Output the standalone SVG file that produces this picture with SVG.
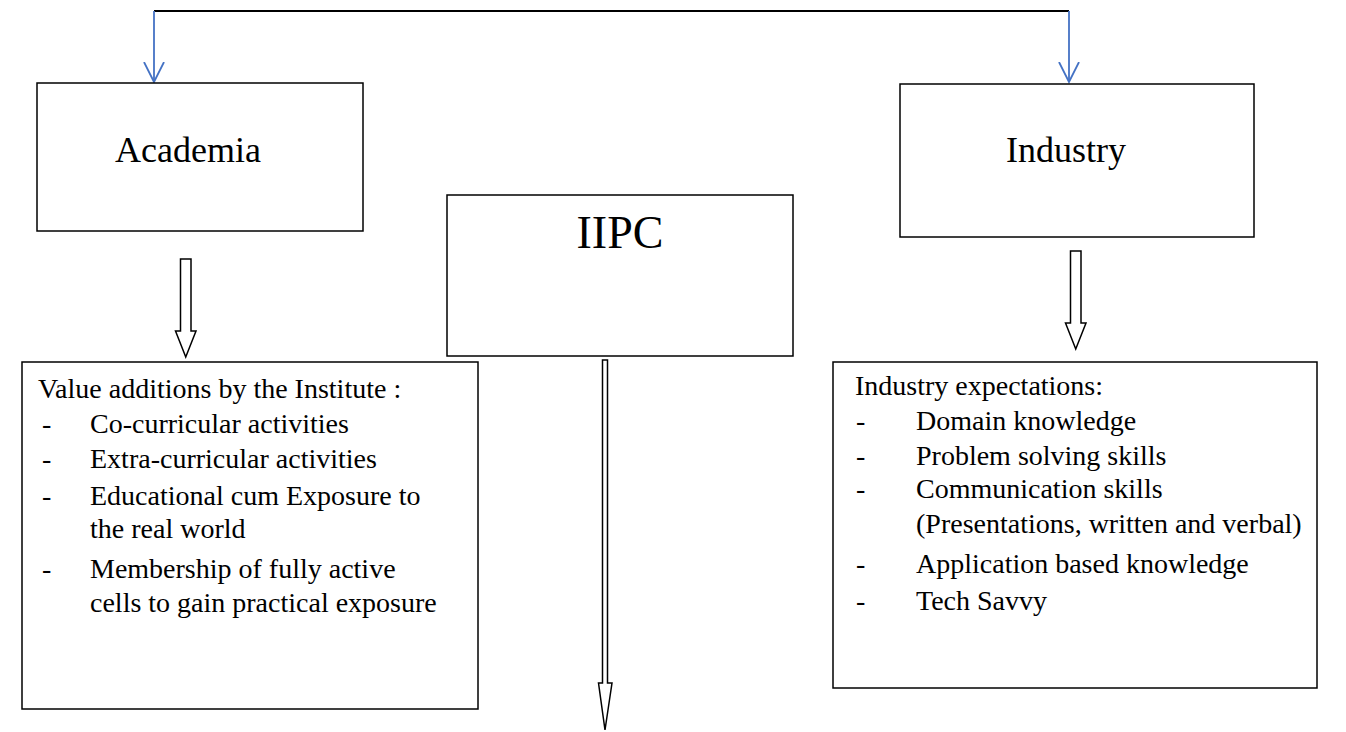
<svg xmlns="http://www.w3.org/2000/svg" width="1346" height="732" viewBox="0 0 1346 732">
<defs>
<style>
.box{fill:#fff;stroke:#000;stroke-width:1.5}
text{font-family:"Liberation Serif","Times New Roman",serif;fill:#000}
.big{font-size:36px}
.body{font-size:28px}
.blk{fill:#fff;stroke:#000;stroke-width:1.5;stroke-linejoin:miter}
.blue{fill:none;stroke:#4472C4;stroke-width:1.8}
</style>
<marker id="ah" markerWidth="24" markerHeight="24" refX="20" refY="11" orient="auto" markerUnits="userSpaceOnUse" viewBox="0 0 24 24">
<path d="M0,1 L20,11 L0,21" fill="none" stroke="#4472C4" stroke-width="1.8"/>
</marker>
</defs>
<rect width="1346" height="732" fill="#fff"/>
<g id="connectors">
<line x1="154" y1="11" x2="1069" y2="11" stroke="#000" stroke-width="2"/>
<line class="blue" x1="154" y1="11" x2="154" y2="82" marker-end="url(#ah)"/>
<line class="blue" x1="1069" y1="11" x2="1069" y2="82" marker-end="url(#ah)"/>
<path class="blk" d="M180.5,259 L191,259 L191,331 L196,331 L185.75,357 L175.5,331 L180.5,331 Z"/>
<path class="blk" d="M1070.5,251 L1081,251 L1081,323 L1086,323 L1075.75,349 L1065.5,323 L1070.5,323 Z"/>
<path class="blk" d="M602.5,360 L607.5,360 L607.5,683 L612,683 L605,730 L598.5,683 L602.5,683 Z"/>
</g>
<g id="academia">
<rect class="box" x="37" y="83" width="326" height="148"/>
<text class="big" x="188" y="162" text-anchor="middle" font-family="Liberation Serif">Academia</text>
</g>
<g id="industry">
<rect class="box" x="900" y="84" width="354" height="153"/>
<text class="big" x="1066" y="162" text-anchor="middle" font-family="Liberation Serif">Industry</text>
</g>
<g id="iipc">
<rect class="box" x="447" y="195" width="346" height="161"/>
<text font-size="46" x="620" y="248" text-anchor="middle" font-family="Liberation Serif">IIPC</text>
</g>
<g id="value-additions" font-family="Liberation Serif">
<rect class="box" x="22" y="362" width="456" height="347"/>
<text class="body" x="38" y="398">Value additions by the Institute :</text>
<text class="body" x="42" y="433">-</text><text class="body" x="90" y="433">Co-curricular activities</text>
<text class="body" x="42" y="468">-</text><text class="body" x="90" y="468">Extra-curricular activities</text>
<text class="body" x="42" y="505">-</text><text class="body" x="90" y="505">Educational cum Exposure to</text>
<text class="body" x="90" y="538">the real world</text>
<text class="body" x="42" y="578">-</text><text class="body" x="90" y="578">Membership of fully active</text>
<text class="body" x="90" y="612">cells to gain practical exposure</text>
</g>
<g id="industry-expectations" font-family="Liberation Serif">
<rect class="box" x="833" y="362" width="484" height="326"/>
<text class="body" x="855" y="395">Industry expectations:</text>
<text class="body" x="856" y="430">-</text><text class="body" x="916" y="430">Domain knowledge</text>
<text class="body" x="856" y="465">-</text><text class="body" x="916" y="465">Problem solving skills</text>
<text class="body" x="856" y="498">-</text><text class="body" x="916" y="498">Communication skills</text>
<text class="body" x="916" y="533">(Presentations, written and verbal)</text>
<text class="body" x="856" y="573">-</text><text class="body" x="916" y="573">Application based knowledge</text>
<text class="body" x="856" y="610">-</text><text class="body" x="916" y="610">Tech Savvy</text>
</g>
</svg>
